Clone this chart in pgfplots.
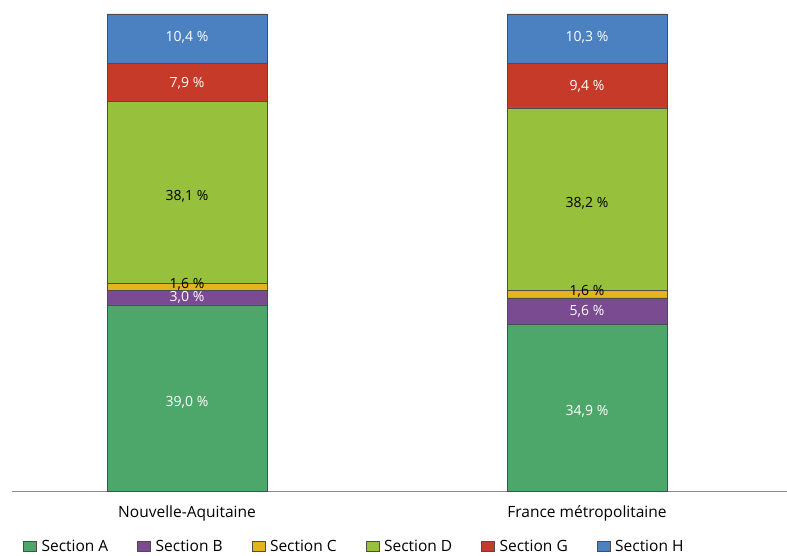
\documentclass[border=0pt]{standalone}
\usepackage{pgfplots}
\pgfplotsset{compat=1.18}
\usepackage{pgfplotstable}
\usepackage{fontspec}
\setmainfont{Open Sans}

\definecolor{secA}{HTML}{4EA76A}
\definecolor{secB}{HTML}{7B4B92}
\definecolor{secC}{HTML}{E3B420}
\definecolor{secD}{HTML}{97C13C}
\definecolor{secG}{HTML}{C63A29}
\definecolor{secH}{HTML}{4B80C1}

% parts in %, one row per territory
\pgfplotstableread{
x A B C D G H
0 39.0 3.0 1.6 38.1 7.9 10.4
1 34.9 5.6 1.6 38.2 9.4 10.3
}\shares

\pgfplotsset{
  seg/.style n args={3}{
    fill=#1, draw=black!70, line width=0.4pt,
    nodes near coords={\pgfmathprintnumber[fixed,fixed zerofill,precision=1,use comma,assume math mode=true]{\pgfplotspointmeta}~\%},
    every node near coord/.append style={text=#2, anchor=center,
      font=\fontsize{14}{16}\selectfont, yshift=#3},
  },
}

\begin{document}
\begin{tikzpicture}
\begin{axis}[
  scale only axis,
  width=775pt, height=477pt,
  xmin=-0.4375, xmax=1.5,
  ymin=0, ymax=100,
  ybar stacked, bar width=160pt,
  axis x line*=bottom,
  axis y line=none,
  x axis line style={draw=black!45, line width=0.6pt},
  xtick={0,1},
  xticklabels={Nouvelle-Aquitaine, France métropolitaine},
  xtick style={draw=none},
  xticklabel style={font=\fontsize{15.5}{17}\selectfont, yshift=-11pt},
  legend columns=-1,
  legend style={draw=none, fill=none, at={(rel axis cs:0,0)}, anchor=west,
    xshift=8pt, yshift=-55.5pt, font=\fontsize{15.5}{17}\selectfont,
    /tikz/every even column/.append style={column sep=27pt}},
  legend image code/.code={\draw[#1, draw=black!70, line width=0.4pt] (0pt,-5pt) rectangle (13pt,5pt);
    \path (16pt,0pt);},
  clip=false,
]
\addplot[seg={secA}{white}{-4pt}] table[x=x, y=A] {\shares};
\addplot[seg={secB}{white}{0pt}] table[x=x, y=B] {\shares};
\addplot[seg={secC}{black}{3pt}] table[x=x, y=C] {\shares};
\addplot[seg={secD}{black}{-4pt}] table[x=x, y=D] {\shares};
\addplot[seg={secG}{white}{-1pt}] table[x=x, y=G] {\shares};
\addplot[seg={secH}{white}{1pt}] table[x=x, y=H] {\shares};
\legend{Section A, Section B, Section C, Section D, Section G, Section H}
\coordinate (sw) at (rel axis cs:0,0);
\end{axis}
\pgfresetboundingbox
\path ([shift={(-12pt,-64pt)}]sw) rectangle ([shift={(775pt,491pt)}]sw);
\end{tikzpicture}
\end{document}
